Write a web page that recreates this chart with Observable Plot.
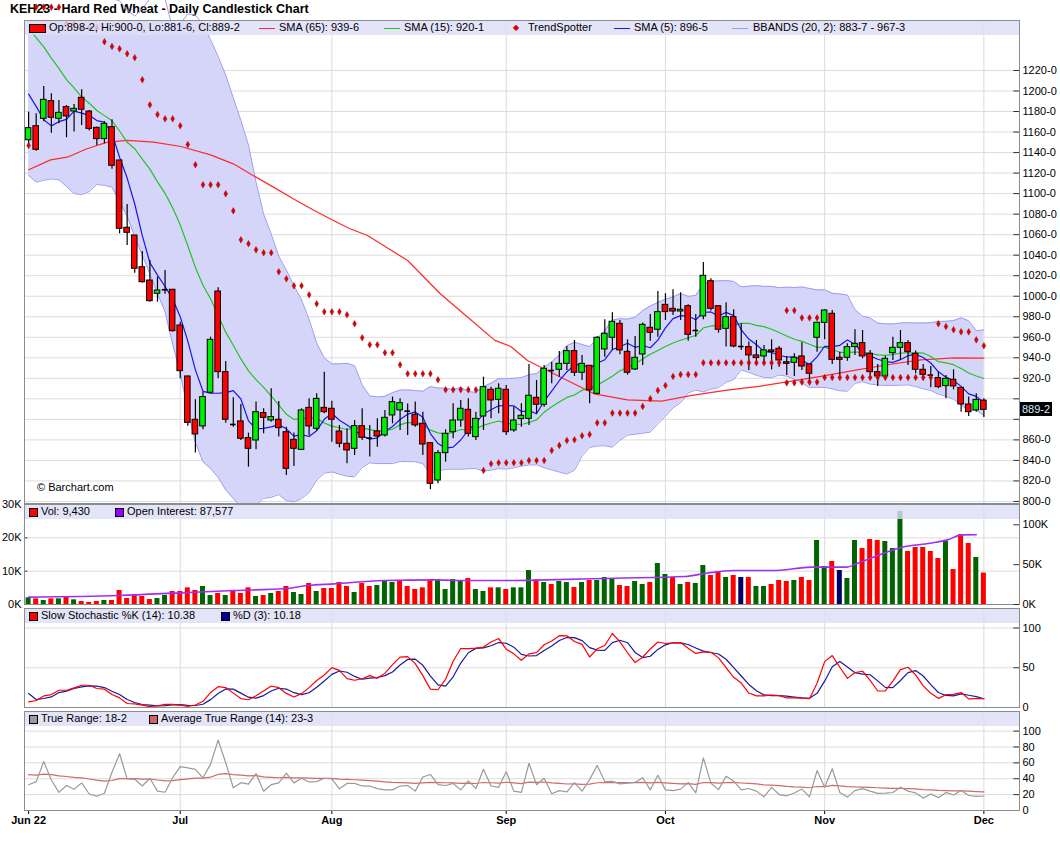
<!DOCTYPE html>
<html><head><meta charset="utf-8">
<script src="https://cdn.jsdelivr.net/npm/d3@7"></script>
<script src="https://cdn.jsdelivr.net/npm/@observablehq/plot@0.6"></script>
<style>
html,body{margin:0;padding:0;background:#fff;}
#wrap{position:relative;width:1060px;height:851px;overflow:hidden;font-family:"Liberation Sans",Arial,sans-serif;}
#wrap svg{overflow:visible;background:transparent;}
.band{position:absolute;left:25px;width:994px;height:14px;background:rgba(222,222,248,0.82);}
.lg{position:absolute;font-size:11px;line-height:13px;color:#000;white-space:nowrap;}
.sq{position:absolute;width:7px;height:7px;border:1px solid #000;}
.ln{position:absolute;height:0;width:16px;border-top:1.5px solid;}
</style></head>
<body><div id="wrap"></div>
<script>
// ---------- DATA ----------
const opens = [1152,1165.7,1172.9,1190.1,1172.9,1184.3,1180,1193.4,1180,1164.1,
1153.1,1164.8,1132.3,1066.7,1059.2,1028.3,1015.3,1002.4,1005.8,1006.3,
971.5,921.8,879.6,873.1,905.9,1004.6,926,875.5,878,861.7,
859.4,886.1,878.9,879.6,867.5,860.1,850.3,891.2,870.8,891.2,
890.3,868.2,856.2,851.3,873.4,862,868.2,864.3,883.8,888.7,
888.2,884.5,875.7,856.8,820.4,847.1,867.5,878.9,889.3,862.7,
882.8,908.8,899,908.8,869.2,880.2,880.5,901,894.2,928,
928.3,934.1,946.5,925.4,932.2,904.9,948.1,959.5,973.1,945.8,
928.6,943.2,969.2,967.3,991.6,987.7,985.1,990.3,966.8,980.3,
1014.7,990.3,968.2,979.6,951,950.4,942.3,941.3,947.2,948.8,
935.7,935.1,941.3,933.5,959.5,974.1,982.9,940,940,950.4,
954.3,943.9,926,921.8,944.5,949.7,954.3,943.9,928.3,923.3,
920.2,912.4,918.6,910.7,894.5,888.7,898.25];
const highs = [1179.4,1177.8,1204.4,1197.3,1190.8,1185.9,1186.8,1201.2,1181,1164.8,
1170.3,1171.9,1132.3,1089.4,1059.2,1043.6,1034.8,1018.6,1025,1006.3,
974.7,922,899,906.5,960.1,1008.2,936.4,901,894.5,866.6,
896.8,890.3,909.8,897.4,872.4,866.6,890.3,900,904.9,926,
897.7,874,870.8,878.9,890.3,874,880.5,888.7,901.7,900,
895,896.8,887,856.8,849.7,869.8,895.2,898.4,900,887,
921.1,911.4,914.6,913,891.9,895.2,933.5,917.9,932.5,935.7,
946.2,951,956.9,942.3,932.2,960.8,977,983.8,976.4,957.5,
960.8,973.8,982.2,1004.6,1002.4,1006.3,1003.3,991.6,982.2,1032.9,
1017,990.3,993.6,986.8,973.1,955.3,956.9,952,957.5,951,
941.3,943.9,954.6,933.5,974.7,986.8,986.1,945.5,953.6,967.3,
966.6,947.2,933.5,941.3,960.1,966.6,956.9,946.5,933.5,931.5,
926,922.8,928.3,910.7,901.7,904.9,900];
const lows = [1146.9,1141.4,1170,1158.9,1168,1154.4,1160,1166.4,1160.9,1146.9,
1148.5,1123.8,1060.8,1049.5,1022.5,1012.7,994.2,994.2,1002,965,
919.5,873.4,847.1,869.8,904.9,919.5,876.3,872.4,859.4,833.4,
850.3,866,877.3,862.7,825.3,834,849.7,864,868.5,885.4,
857.8,852.3,836.7,844.8,859.4,843.2,852.9,862.7,875.7,869.2,
864.3,872.4,844.8,811.4,817.2,838.3,861.1,872.4,862.7,859.4,
869.2,880.5,885.4,864.3,867.5,872.4,874,885.4,891.9,914.6,
921.1,927.6,921.8,917.9,895.2,904,940.6,947.2,942.9,923.1,
927.6,932.5,956.2,960.1,976.4,981.2,976.4,956.2,960.1,977,
985.5,964,950.4,949.7,947.2,927.6,932.5,934.8,928.3,930.9,
922.8,921.8,927.6,916.3,945.5,957.5,933.5,922.8,936.7,942.3,
939,922.8,912,919.5,937.4,937.4,932.5,924.4,917.9,910.7,
909.8,900,908.8,887,882.8,887,881.75];
const closes = [1163.8,1142.7,1191.4,1173.9,1178.7,1175.2,1182.6,1181.7,1163.1,1153.1,
1168,1127.1,1065.7,1061.8,1026.7,1013.7,995.2,1005.6,1006.3,966,
927,876.6,865.3,901.7,957.5,926,879.6,875,861.1,851.3,
887,881.5,882.2,871.4,831.8,851.3,888.7,873.1,900,887,
879.6,856.2,849.7,873.4,862,861.7,863.3,881.5,896.8,895.8,
888,874.1,855.5,817.2,847.1,865.9,878.9,890.3,865.9,880.5,
911.4,898.4,909.8,867.5,878.9,883.5,903,894.2,929.3,927.6,
934.1,946.5,925.4,934.1,908.2,959.5,963.4,975.1,947.2,925.4,
940,972.1,964.4,984.5,984.5,985.1,986.8,962.4,966.6,1019.9,
987.7,967.3,979.6,951,951,942.3,939.7,947.2,945.5,937.4,
934.1,940,931.5,924.4,974.1,986.1,938,938,950.4,953.6,
941.3,926,921.8,939,949.7,954.3,945.5,928.3,923.4,923.1,
911.4,919.5,912.1,894.5,887,899,889.25];

// volume (contracts) and bar colour code: G up, R down, N unchanged
const volumes = [2000,1700,1200,1700,1700,2400,1400,900,600,900,1200,1200,4200,1800,2900,2400,1500,1800,2700,3900,
3900,5000,4200,5400,2700,3300,2700,3900,3300,5000,2400,2700,3300,3900,5400,3600,3000,6300,3900,4800,
4800,6600,5400,3600,6300,5400,5700,7200,6600,7200,5400,4500,5000,7200,7500,4500,7500,7200,7800,4500,
3900,5000,5000,4500,5000,5000,10200,7400,6600,6000,6900,6600,5100,6600,7200,7200,8100,7500,5700,5400,
6900,6000,6600,12300,9000,8100,6000,6600,6300,11700,8700,9900,8100,8700,8100,8100,5400,5400,6000,7200,
6900,7200,8100,7200,19200,11400,12900,10200,7800,19200,16800,19500,19200,18900,16800,27900,15900,17100,17100,15900,
13800,18900,10500,21000,18300,14100,9430];
const volDir = "GRGRGRGRRRGRRRRRRGGRRRRGGRGRRRGRGRRGGRGRRRRGRRGGGRRRRRGGGGRGGRGRG" +
               "GGRGRGGRGRGGGRRGGRGGRGRGGRRGRNRGGRRRGRRGGRNGGRRRGGGRRRRRGRRRGR";

// open interest samples
const oiIdx = [0,11.9,20,27,33.7,36.8,40.3,46.9,53.5,57.9,64,68.2,77.4,86.6,89.4,93.1,98.6,103.2,107.9,109.2,112,115.2,118.9,121.2,123.1,125];
const oiVal = [9200,11300,14600,17600,19700,23800,25900,30100,30900,30100,30100,30900,33000,35100,39300,42700,42700,46900,46900,51000,61500,71900,76900,81100,87400,87577];

// SMA(65)
const sma65Idx = [0,2.9,5.1,7.7,10.4,13,16.5,20.1,24,27,29.6,32.3,34.9,37.5,40.2,42.4,44.7,50,54.3,58.7,61.5,63.6,65.8,70.2,74.6,79,83.5,87.5,91.9,96.3,100.6,104.5,108.9,113.3,117.7,122.1,126];
const sma65Val = [1123.2,1132.9,1135.5,1143.7,1150.2,1151.8,1150.2,1145.9,1137.8,1129,1117.7,1106.3,1094.9,1084.2,1073.8,1065.7,1059.2,1034.8,1002.4,974.7,957,951,937.4,921.1,904.9,899,897.8,903.3,908.2,912.1,917.3,921.8,927.7,933.2,938,940,939.75];

const sma5Early = [1197,1185,1172,1166];
const sma15Early = [1261,1252,1243,1232,1222,1211,1203,1194,1188,1181,1176,1171,1161,1150];
const bbUpperEarly = [1300,1302,1305,1306,1306,1304,1300,1297,1294,1292,1291,1290,1288,1279,1273,1280,1290,1295,1290];
const bbLowerEarly = [1117.7,1111.2,1113,1114.4,1113.4,1107,1100,1099,1102,1108.9,1108,1106.3,1092,1078,1058,1040,1021.8,1002.4,985];
const stochKEarly = [7,8.8,14.6,16.3,21.7,21.7,24.6,28,28,23.9,23,16.3,12.1,5,4.5,2.9];
const stochDEarly = [17.6,10,11.3,13.3,18.8,20.5,23.9,25.9,27.1,26.8,25.1,20.5,16.3,10,6.3,3.8,2.9];
const atrStart = 45.2;

// TrendSpotter dots
const tsSellIdx = [1,2,3,4,5,6,7,8,9,10,11,12,13,14,15,16,17,18,19,20,21,22,23,24,25,26,27,28,29,30,31,32,33,34,35,36,37,38,39,40,41,42,43,44,45,46,47,48,49,50,51,52,53,54,55,56,57,58,59,100,101,102,103,104,120,121,122,123,124,125,126];
const tsSellVal = [1281.7,1281.7,1281.7,1281.7,1265.5,1265.5,1261.6,1261.6,1261.6,1248,1243.4,1241.1,1236.3,1232.4,1210.9,1186.5,1177.1,1172.9,1172.9,1166.1,1147.9,1128.1,1108.6,1108.6,1108.6,1099.8,1083.2,1055,1051.1,1045.2,1042.3,1042.3,1023.8,1017,1010.2,1010.2,1001.4,992.6,984.8,984.8,984.8,981.9,973.1,959.5,952.7,952.7,944.9,944.9,933.2,924.4,924.4,924.4,924.4,918.6,908.8,908.8,908.8,908.8,908.8,986.1,986.1,978.9,978.9,978.9,973.1,970.5,967.3,965.3,965.3,957.5,951.7];
const tsBuyIdx = [0,60,61,62,63,64,65,66,67,68,69,70,71,72,73,74,75,76,77,78,79,80,81,82,83,84,85,86,87,88,89,90,91,92,93,94,95,96,97,98,99,100,101,102,103,104,105,106,107,108,109,110,111,112,113,114,115,116,117,118,119];
const tsBuyVal = [1146.9,830.2,836.7,837.7,837.7,837.7,837.7,839.9,839.9,839.9,849.7,854.6,859.4,860.1,864,865.3,876.6,876.6,886.1,886.1,886.1,886.1,892.6,900.1,908.2,913,921.8,923.7,923.7,923.7,935.1,935.1,935.1,935.1,935.1,935.1,935.1,935.1,935.1,935.1,935.1,915.6,915.6,916.3,916.3,916.3,920.8,920.8,920.8,920.8,920.8,920.8,920.8,920.8,920.8,920.8,920.8,920.8,920.8,920.8,920.8];

// axes
const monthIdx = [0,20,40,63,84,105,126];
const monthLabels = ["Jun 22","Jul","Aug","Sep","Oct","Nov","Dec"];
const priceTicks = d3.range(800,1221,20);
const volTicks = [0,10000,20000,30000];
const oiTicks = [0,50000,100000];
const stochTicks = [0,50,100];
const trTicks = [0,20,40,60,80,100];
const legendText = {
  sma65:"SMA (65): 939-6", sma15:"SMA (15): 920-1", ts:"TrendSpotter", sma5:"SMA (5): 896-5",
  bb:"BBANDS (20, 2): 883-7 - 967-3", vol:"Vol: 9,430", oi:"Open Interest: 87,577",
  k:"Slow Stochastic %K (14): 10.38", d:"%D (3): 10.18", tr:"True Range: 18-2", atr:"Average True Range (14): 23-3"
};

// ---------- DERIVED ----------
const n = closes.length;
const fmt8 = v => { const f = Math.floor(v + 1e-9); return f + "-" + Math.round((v - f) * 8); };
const candles = closes.map((c, i) => ({i, o: opens[i], h: highs[i], l: lows[i], c}));
const bodies = candles.filter(d => Math.abs(d.c - d.o) >= 0.6);
const dojis = candles.filter(d => Math.abs(d.c - d.o) < 0.6);
const sma = (p, i) => d3.mean(closes.slice(i - p + 1, i + 1));
const sma5 = candles.map(d => ({i: d.i, v: d.i < 4 ? sma5Early[d.i] : sma(5, d.i)}));
const sma15 = candles.map(d => ({i: d.i, v: d.i < 14 ? sma15Early[d.i] : sma(15, d.i)}));
const bb = candles.map(d => {
  if (d.i < 19) return {i: d.i, up: bbUpperEarly[d.i], lo: bbLowerEarly[d.i]};
  const w = closes.slice(d.i - 19, d.i + 1), m = d3.mean(w);
  const sd = Math.sqrt(d3.mean(w, x => (x - m) ** 2));
  return {i: d.i, up: m + 2 * sd, lo: m - 2 * sd};
});
const sma65 = sma65Idx.map((x, k) => ({i: x, v: sma65Val[k]}));
const fastK = candles.map(d => {
  if (d.i < 13) return null;
  const hh = d3.max(highs.slice(d.i - 13, d.i + 1)), ll = d3.min(lows.slice(d.i - 13, d.i + 1));
  return (d.c - ll) / (hh - ll) * 100;
});
const slowK = candles.map(d => d.i < stochKEarly.length ? stochKEarly[d.i] : d3.mean(fastK.slice(d.i - 2, d.i + 1)));
const pctD = candles.map(d => d.i < stochDEarly.length ? stochDEarly[d.i] : d3.mean(slowK.slice(d.i - 2, d.i + 1)));
const tr = candles.map(d => d.i === 0 ? d.h - d.l : Math.max(d.h, closes[d.i - 1]) - Math.min(d.l, closes[d.i - 1]));
const atr = [];
tr.forEach((t, i) => atr.push(i === 0 ? atrStart : (atr[i - 1] * 13 + t) / 14));
const volData = volumes.map((v, i) => ({i, v, dir: volDir[i]}));
const oi = oiIdx.map((x, k) => ({i: x, v: oiVal[k]}));
const tsDots = tsSellIdx.map((x, k) => ({i: x, v: tsSellVal[k]})).concat(tsBuyIdx.map((x, k) => ({i: x, v: tsBuyVal[k]})));
const last = candles[n - 1];
// the last-price box hides the price labels it would collide with
const priceLabelTicks = priceTicks.filter(t => Math.abs(t - last.c) > 12);

// ---------- LAYOUT ----------
const wrap = document.getElementById("wrap");
const xDomain = [-0.54, 130.7];
const bw = 0.37;
const style = {fontFamily: '"Liberation Sans", Arial, sans-serif', fontSize: "11px", color: "#000", background: "transparent", overflow: "visible"};
const base = {width: 1060, marginLeft: 24, marginRight: 41, x: {domain: xDomain, axis: null}, style};
const grid = "#dcdcdc";
const rightTicks = t => Plot.ruleY(t, {x1: xDomain[1] - 0.75, x2: xDomain[1], stroke: "#333"});
function place(el, top) { el.style.position = "absolute"; el.style.left = "0px"; el.style.top = top + "px"; wrap.appendChild(el); return el; }
function div(cls, left, top, css = "", html = "") {
  const e = document.createElement("div"); e.className = cls;
  e.style.left = left + "px"; e.style.top = top + "px"; e.style.cssText += css; e.innerHTML = html; wrap.appendChild(e); return e;
}

// title (behind the chart, the dots overlap it)
div("lg", 10, 1, "font-size:12.5px;font-weight:bold;line-height:16px;", "KEH23 - Hard Red Wheat - Daily Candlestick Chart");

// main price panel
const main = Plot.plot({
  ...base, height: 505, marginTop: 20, marginBottom: 2,
  y: {domain: [798, 1268.7], axis: null},
  marks: [
    Plot.ruleY(priceTicks, {stroke: grid}),
    Plot.ruleX(monthIdx.slice(1), {stroke: grid}),
    Plot.areaY(bb, {x: "i", y1: "lo", y2: "up", fill: "#d5d5fa", clip: true}),
    Plot.line(bb, {x: "i", y: "up", stroke: "#9c9cf2", strokeWidth: 1}),
    Plot.line(bb, {x: "i", y: "lo", stroke: "#9c9cf2", strokeWidth: 1, clip: true}),
    Plot.line(sma65, {x: "i", y: "v", stroke: "#ff2a2a", strokeWidth: 1.2}),
    Plot.line(sma15, {x: "i", y: "v", stroke: "#22c322", strokeWidth: 1.2}),
    Plot.line(sma5, {x: "i", y: "v", stroke: "#1616f0", strokeWidth: 1.2}),
    Plot.ruleX(candles, {x: "i", y1: "l", y2: "h", stroke: "#000", strokeWidth: 1.2}),
    Plot.rect(bodies, {x1: d => d.i - bw, x2: d => d.i + bw, y1: "o", y2: "c", fill: d => d.c > d.o ? "#00ee00" : "#ff0000", stroke: "#000", strokeWidth: 1}),
    Plot.ruleY(dojis, {y: "c", x1: d => d.i - bw, x2: d => d.i + bw, stroke: "#000", strokeWidth: 1.6}),
    Plot.dot(tsDots, {x: "i", y: "v", symbol: "diamond", r: 2, fill: "#e00000", stroke: "#8a0000", strokeWidth: 0.4}),
    rightTicks(priceTicks),
    Plot.axisY({anchor: "right", ticks: priceLabelTicks, tickSize: 0, tickPadding: 3, tickFormat: fmt8, fontSize: 11, label: null}),
    Plot.frame({stroke: "#8c8c8c"})
  ]
});
place(main, 0);

// volume panel
const volPlot = Plot.plot({
  ...base, height: 101, marginTop: 0, marginBottom: 1,
  y: {domain: [0, 30000], axis: null},
  marks: [
    Plot.ruleY([10000, 20000], {stroke: grid}),
    Plot.ruleX(monthIdx.slice(1), {stroke: grid}),
    Plot.rectY(volData, {x1: d => d.i - 0.33, x2: d => d.i + 0.33, y: "v", fill: d => d.dir === "G" ? "#006400" : d.dir === "R" ? "#ff0000" : "#000066"}),
    Plot.ruleY(volTicks, {x1: xDomain[0], x2: xDomain[0] + 0.45, stroke: "#333"}),
    Plot.axisY({anchor: "left", ticks: volTicks, tickSize: 0, tickPadding: 3, tickFormat: d => d / 1000 + "K", fontSize: 11, label: null}),
    Plot.frame({stroke: "#8c8c8c"})
  ]
});
place(volPlot, 504);
const oiPlot = Plot.plot({
  ...base, height: 101, marginTop: 0, marginBottom: 1,
  y: {domain: [0, 125500], axis: null},
  marks: [
    Plot.line(oi, {x: "i", y: "v", stroke: "#a030f0", strokeWidth: 1.6, curve: "monotone-x"}),
    rightTicks(oiTicks),
    Plot.axisY({anchor: "right", ticks: oiTicks, tickSize: 0, tickPadding: 3, tickFormat: d => d / 1000 + "K", fontSize: 11, label: null})
  ]
});
place(oiPlot, 504);

// stochastic panel
const stData = candles.map(d => ({i: d.i, k: slowK[d.i], d: pctD[d.i]}));
const stPlot = Plot.plot({
  ...base, height: 100, marginTop: 0, marginBottom: 1,
  y: {domain: [0, 124.5], axis: null},
  marks: [
    Plot.ruleY([50, 100], {stroke: grid}),
    Plot.ruleX(monthIdx.slice(1), {stroke: grid}),
    Plot.line(stData, {x: "i", y: "d", stroke: "#1a1a9c", strokeWidth: 1.2}),
    Plot.line(stData, {x: "i", y: "k", stroke: "#ff0000", strokeWidth: 1.2}),
    rightTicks(stochTicks),
    Plot.axisY({anchor: "right", ticks: stochTicks, tickSize: 0, tickPadding: 3, fontSize: 11, label: null}),
    Plot.frame({stroke: "#8c8c8c"})
  ]
});
place(stPlot, 608);

// true range panel with the date axis
const trData = candles.map(d => ({i: d.i, t: tr[d.i], a: atr[d.i]}));
const labelOf = new Map(monthIdx.map((m, k) => [m, monthLabels[k]]));
const trPlot = Plot.plot({
  ...base, height: 130, marginTop: 0, marginBottom: 31,
  y: {domain: [0, 124.7], axis: null},
  marks: [
    Plot.ruleY([20, 40, 60, 80, 100], {stroke: grid}),
    Plot.ruleX(monthIdx.slice(1), {stroke: grid}),
    Plot.line(trData, {x: "i", y: "a", stroke: "#d06a6a", strokeWidth: 1.2}),
    Plot.line(trData, {x: "i", y: "t", stroke: "#9a9a9a", strokeWidth: 1.2}),
    rightTicks(trTicks),
    Plot.axisY({anchor: "right", ticks: trTicks, tickSize: 0, tickPadding: 3, fontSize: 11, label: null}),
    Plot.axisX({ticks: monthIdx, tickFormat: d => labelOf.get(d), tickSize: 4, tickPadding: 2, fontSize: 11, fontWeight: "bold", label: null}),
    Plot.frame({stroke: "#8c8c8c"})
  ]
});
place(trPlot, 711);

// ---------- LEGEND BANDS ----------
div("band", 25, 21);
div("band", 25, 505);
div("band", 25, 609);
div("band", 25, 712);

div("sq", 29, 24, "width:15px;height:7px;background:#ff0000;");
div("lg", 49, 21, "", `Op:${fmt8(last.o)}, Hi:${fmt8(last.h)}, Lo:${fmt8(last.l)}, Cl:${fmt8(last.c)}`);
div("ln", 259, 28, "border-color:#ff2a2a;");
div("lg", 279, 21, "", legendText.sma65);
div("ln", 384, 28, "border-color:#22c322;");
div("lg", 404, 21, "", legendText.sma15);
div("lg", 513, 21, "color:#e00000;font-size:8px;", "&#9670;");
div("lg", 528, 21, "", legendText.ts);
div("ln", 614, 28, "border-color:#1616f0;");
div("lg", 634, 21, "", legendText.sma5);
div("ln", 732, 28, "border-color:#9c9cf2;");
div("lg", 753, 21, "", legendText.bb);

div("sq", 29, 508, "background:#ff0000;");
div("lg", 41, 505, "", legendText.vol);
div("sq", 115, 508, "background:#9900ff;");
div("lg", 127, 505, "", legendText.oi);

div("sq", 29, 612, "background:#ff0000;");
div("lg", 41, 609, "", legendText.k);
div("sq", 221, 612, "background:#000099;");
div("lg", 233, 609, "", legendText.d);

div("sq", 29, 715, "background:#9a9a9a;");
div("lg", 41, 712, "", legendText.tr);
div("sq", 149, 715, "background:#cc6666;");
div("lg", 161, 712, "", legendText.atr);

div("lg", 37, 481, "", "&copy; Barchart.com");

// last price marker on the price axis
const yLast = main.scale("y").apply(last.c);
div("lg", 1020, yLast - 7, "background:#000;color:#d8ecff;padding:0 2px;line-height:14px;", fmt8(last.c));
</script>
</body></html>
